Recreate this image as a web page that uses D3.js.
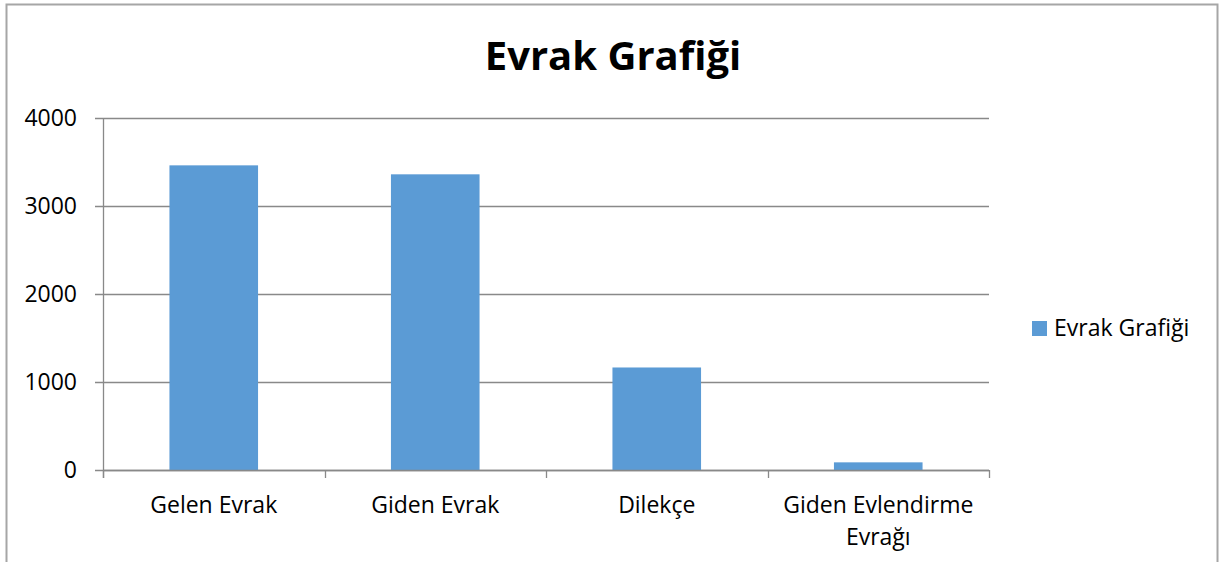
<!DOCTYPE html>
<html>
<head>
<meta charset="utf-8">
<script src="https://cdn.jsdelivr.net/npm/d3@7"></script>
<style>
  body { margin: 0; background: #fff; }
  svg { display: block; font-family: "Open Sans", sans-serif; }
</style>
</head>
<body>
<div id="chart"></div>
<script>
// DATA
const categories = ["Gelen Evrak", "Giden Evrak", "Dilekçe", "Giden Evlendirme Evrağı"];
const values = [3462, 3360, 1165, 87];
const yTicks = [0, 1000, 2000, 3000, 4000];
const seriesName = "Evrak Grafiği";
const title = "Evrak Grafiği";

const W = 1224, H = 562;
const MARGIN = { top: 118, right: 235, bottom: 92, left: 103 };
const plotW = W - MARGIN.left - MARGIN.right;
const plotH = H - MARGIN.top - MARGIN.bottom;

const BAR = "#5b9bd5";
const GRID = "#898989";

let svg = d3.select("#chart").append("svg")
  .attr("width", W)
  .attr("height", H);

// chart border
svg.append("rect")
  .attr("x", 6.5).attr("y", 4.5)
  .attr("width", 1211).attr("height", 600)
  .attr("fill", "none")
  .attr("stroke", "#a6a6a6")
  .attr("stroke-width", 2);

// TITLE
svg.append("text")
  .attr("x", 613).attr("y", 70)
  .attr("text-anchor", "middle")
  .style("font-size", "40px")
  .style("font-weight", "bold")
  .attr("fill", "#000")
  .text(title);

let g = svg.append("g")
  .attr("transform", `translate(${MARGIN.left}, ${MARGIN.top})`);

// SCALES
let yScale = d3.scaleLinear().domain([0, 4000]).range([plotH, 0]);
let xScale = d3.scaleBand().domain(categories).range([0, plotW])
  .paddingInner(0.6).paddingOuter(0.3);
let xSlots = d3.scaleBand().domain(categories).range([0, plotW]);

// GRIDLINES
g.append("g")
  .selectAll("line")
  .data(yTicks)
  .join("line")
  .attr("x1", -8).attr("x2", plotW)
  .attr("y1", d => Math.round(yScale(d)) + 0.5)
  .attr("y2", d => Math.round(yScale(d)) + 0.5)
  .attr("stroke", GRID)
  .attr("stroke-width", 1.3);

// Y AXIS
let yAxis = g.append("g")
  .call(d3.axisLeft(yScale).tickValues(yTicks).tickFormat(d3.format("d")).tickSize(0).tickPadding(26));
yAxis.select(".domain").remove();
yAxis.selectAll("text")
  .style("font-size", "23px")
  .style("font-family", "Open Sans")
  .attr("fill", "#000");

g.append("line")
  .attr("x1", 0.5).attr("x2", 0.5)
  .attr("y1", 0).attr("y2", plotH + 8)
  .attr("stroke", GRID)
  .attr("stroke-width", 1.3);

// BARS
g.selectAll("rect.bar")
  .data(values)
  .join("rect")
  .attr("class", "bar")
  .attr("x", (d, i) => xScale(categories[i]))
  .attr("width", xScale.bandwidth())
  .attr("y", d => yScale(d))
  .attr("height", d => plotH - yScale(d))
  .attr("fill", BAR);

// X AXIS
g.append("line")
  .attr("x1", 0).attr("x2", plotW)
  .attr("y1", plotH + 0.5).attr("y2", plotH + 0.5)
  .attr("stroke", GRID)
  .attr("stroke-width", 1.3);

let bounds = categories.map(c => xSlots(c)).concat([plotW]);
g.append("g")
  .selectAll("line")
  .data(bounds)
  .join("line")
  .attr("x1", d => Math.round(d) + 0.5)
  .attr("x2", d => Math.round(d) + 0.5)
  .attr("y1", plotH).attr("y2", plotH + 8)
  .attr("stroke", GRID)
  .attr("stroke-width", 1.3);

// category labels (wrap long one like Excel)
const labelLines = c => c === "Giden Evlendirme Evrağı" ? ["Giden Evlendirme", "Evrağı"] : [c];
let labels = g.append("g")
  .selectAll("text")
  .data(categories)
  .join("text")
  .attr("x", d => xSlots(d) + xSlots.bandwidth() / 2)
  .attr("y", plotH + 43)
  .attr("text-anchor", "middle")
  .style("font-size", "23px")
  .attr("fill", "#000");
labels.selectAll("tspan")
  .data(d => labelLines(d))
  .join("tspan")
  .attr("x", function() { return d3.select(this.parentNode).attr("x"); })
  .attr("dy", (d, i) => i === 0 ? 0 : 32)
  .text(d => d);

// LEGEND
let legend = svg.append("g").attr("transform", "translate(1032, 321)");
legend.append("rect")
  .attr("width", 15).attr("height", 15)
  .attr("fill", BAR);
legend.append("text")
  .attr("x", 22).attr("y", 15)
  .style("font-size", "23px")
  .attr("fill", "#000")
  .text(seriesName);
</script>
</body>
</html>
